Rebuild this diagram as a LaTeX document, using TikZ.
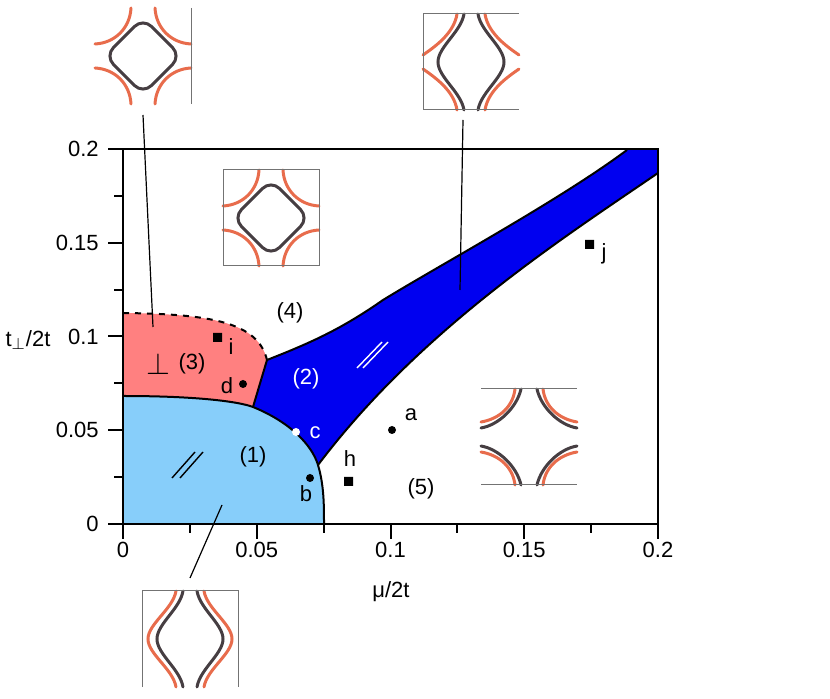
\documentclass[tikz,border=0pt]{standalone}
\usepackage{fontspec}
\setmainfont{Liberation Sans}
\usetikzlibrary{positioning}
\definecolor{fsdark}{RGB}{70,62,66}
\definecolor{fsorange}{RGB}{232,108,76}
\definecolor{phred}{RGB}{255,128,128}
\definecolor{phlight}{RGB}{135,206,250}
\definecolor{phblue}{RGB}{0,0,240}
\tikzset{frm/.style={draw=black!55,line width=0.5pt},
 fsd/.style={draw=fsdark,line width=1.5pt,line cap=round},
 fso/.style={draw=fsorange,line width=1.5pt,line cap=round},
 lbl/.style={inner sep=1pt,font=\fontsize{11}{13}\selectfont}}
% Fermi surface insets, drawn around the current origin (pixel units)
\newcommand\fsClosed{%
 \draw[fsd,rounded corners=6pt] (0,-38) -- (38,0) -- (0,38) -- (-38,0) -- cycle;
 \foreach \sx in {1,-1}{\foreach \sy in {1,-1}{
  \draw[fso] (\sx*12,\sy*48) .. controls (\sx*13,\sy*28) and (\sx*28,\sy*13) .. (\sx*48,\sy*12);}}}
\newcommand\fsOpenV[1]{% #1 = 1: orange cut at the side
 \foreach \sx in {1,-1}{
  \draw[fsd] (\sx*7,-48) .. controls (\sx*10,-30) and (\sx*33,-15) .. (\sx*33,0)
   .. controls (\sx*33,15) and (\sx*10,30) .. (\sx*7,48);
  \ifnum#1=1
   \draw[fso] (\sx*14,-48) .. controls (\sx*17,-28) and (\sx*38,-14) .. (\sx*48,-7);
   \draw[fso] (\sx*14,48) .. controls (\sx*17,28) and (\sx*38,14) .. (\sx*48,7);
  \else
   \draw[fso] (\sx*14,-48) .. controls (\sx*17,-30) and (\sx*42,-15) .. (\sx*42,0)
    .. controls (\sx*42,15) and (\sx*17,30) .. (\sx*14,48);
  \fi}}
\newcommand\fsCorner{%
 \foreach \sx in {1,-1}{\foreach \sy in {1,-1}{
  \draw[fso] (\sx*14,\sy*48) .. controls (\sx*16,\sy*30) and (\sx*30,\sy*18) .. (\sx*48,\sy*15);
  \draw[fsd] (\sx*8,\sy*48) .. controls (\sx*12,\sy*30) and (\sx*30,\sy*12) .. (\sx*48,\sy*9);}}}

\begin{document}
\begin{tikzpicture}[x=0.5pt,y=-0.5pt]
\useasboundingbox (0,0) rectangle (830,699);
% phase regions
\fill[phred] (123,313) .. controls (210,314) and (258,322) .. (267,360) -- (253,407)
 .. controls (240,402) and (200,396) .. (123,396) -- cycle;
\fill[phlight] (123,396) .. controls (200,396) and (240,402) .. (253,407)
 .. controls (290,422) and (312,445) .. (318,465) .. controls (324,485) and (324,505) .. (324,524)
 -- (123,524) -- cycle;
\fill[phblue] (267,360) .. controls (310,343) and (340,330) .. (383,300)
 .. controls (440,265) and (560,200) .. (627,150) -- (658,150) -- (658,173)
 .. controls (560,240) and (420,330) .. (318,465)
 .. controls (312,445) and (290,422) .. (253,407) -- cycle;
% boundaries
\draw[line width=1pt,dashed] (123,313) .. controls (210,314) and (258,322) .. (267,360);
\draw[line width=1pt] (267,360) -- (253,407);
\draw[line width=1pt] (123,396) .. controls (200,396) and (240,402) .. (253,407)
 .. controls (290,422) and (312,445) .. (318,465) .. controls (324,485) and (324,505) .. (324,524);
\draw[line width=1pt] (267,360) .. controls (310,343) and (340,330) .. (383,300)
 .. controls (440,265) and (560,200) .. (627,150);
\draw[line width=1pt] (658,173) .. controls (560,240) and (420,330) .. (318,465);
% hatches
\draw[white,line width=0.7pt] (357,368) -- (382,342) (363,368) -- (388,342);
\draw[line width=0.7pt] (172,478) -- (195,452) (180,478) -- (203,452);
% frame and ticks
\draw[line width=1pt] (123,149) rectangle (658,524);
\foreach \i in {0,1,...,8}{
 \pgfmathsetmacro\xx{123+66.875*\i}
 \pgfmathsetmacro\yy{524-46.875*\i}
 \pgfmathsetmacro\tl{ifthenelse(mod(\i,2)==0,15,9)}
 \draw[line width=1pt] (\xx,524) -- ++(0,\tl);
 \draw[line width=1pt] (123,\yy) -- ++(-\tl,0);}
\foreach \v/\t in {0/0,1/0.05,2/0.1,3/0.15,4/0.2}{
 \node[lbl,anchor=north] (xl\v) at (123+133.75*\v,540) {\t};
 \node[lbl,anchor=east] (yl\v) at (101,524-93.75*\v) {\t};}
\node[lbl] (xlab) at (391,592) {μ/2t};
\node[lbl] (ylab) at (28,340) {t$_\perp$/2t};
% labels of the phases
\node[lbl] (p1) at (253,457) {(1)};
\node[lbl,text=white] (p2) at (306,379) {(2)};
\node[lbl] (p3) at (192,364) {(3)};
\node[lbl] (p4) at (290,313) {(4)};
\node[lbl] (p5) at (421,489) {(5)};
\node[lbl,scale=1.4] (perp) at (158,364) {$\perp$};
% points
\fill (243,384) circle[radius=4] (310,478) circle[radius=4] (392,430) circle[radius=4];
\fill[white] (296,432) circle[radius=4];
\fill (213,333) rectangle ++(9,9) (344,477) rectangle ++(9,9) (585,240) rectangle ++(9,9);
\node[lbl] (la) at (411,415) {a};
\node[lbl] (lb) at (306,494) {b};
\node[lbl,text=white] (lc) at (315,433) {c};
\node[lbl] (ld) at (227,386) {d};
\node[lbl] (lh) at (350,459) {h};
\node[lbl] (li) at (231,347) {i};
\node[lbl] (lj) at (604,254) {j};
% insets
\begin{scope}[shift={(143,56)}]
 \fsClosed
 \draw[frm] (48,-48) -- (48,48);
\end{scope}
\begin{scope}[shift={(271,218)}]
 \fsClosed
 \draw[frm] (-48,-48) rectangle (48,48);
\end{scope}
\begin{scope}[shift={(471,62)}]
 \fsOpenV{1}
 \draw[frm] (48,-48) -- (-48,-48) -- (-48,48) -- (48,48);
\end{scope}
\begin{scope}[shift={(529,437)}]
 \fsCorner
 \draw[frm] (-48,-48) -- (48,-48) (-48,48) -- (48,48);
\end{scope}
\begin{scope}[shift={(190,639)}]
 \fsOpenV{0}
 \draw[frm] (-48,48) -- (-48,-48) -- (48,-48) -- (48,48);
\end{scope}
% leaders
\coordinate (tlA) at (143,115); \coordinate (tlB) at (153,327);
\coordinate (trA) at (463,120); \coordinate (trB) at (460,290);
\coordinate (bA) at (222,505);  \coordinate (bB) at (190,578);
\draw[line width=0.6pt] (tlA) -- (tlB) (trA) -- (trB) (bA) -- (bB);
\end{tikzpicture}
\end{document}
